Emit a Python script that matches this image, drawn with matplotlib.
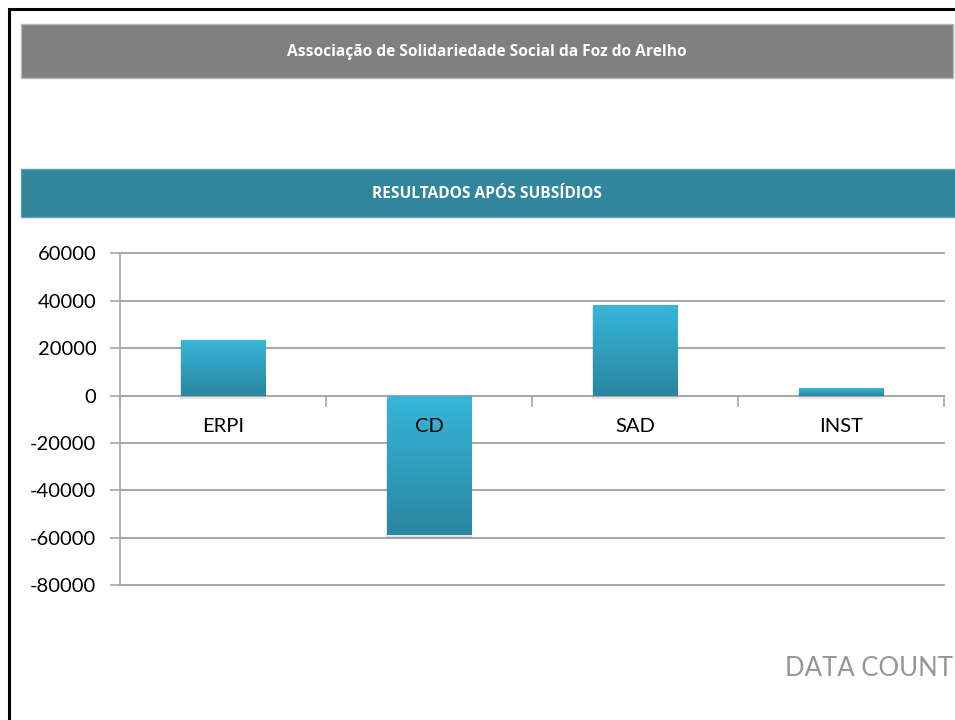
import matplotlib.pyplot as plt
import matplotlib.patches as mpatches
import matplotlib.transforms as mtransforms
import numpy as np

# dados
categorias = ["ERPI", "CD", "SAD", "INST"]
resultados = [23400, -58700, 38200, 3200]
y_ticks = [-80000, -60000, -40000, -20000, 0, 20000, 40000, 60000]

titulo = "Associação de Solidariedade Social da Foz do Arelho"
subtitulo = "RESULTADOS APÓS SUBSÍDIOS"
marca = "DATA COUNT"

W, H = 955, 720
fig = plt.figure(figsize=(W / 100, H / 100), dpi=100)
fig.patch.set_facecolor("white")


def px_rect(x0, y0, x1, y1, **kw):
    # retângulo em pixels (origem no topo)
    r = mpatches.Rectangle((x0 / W, 1 - y1 / H), (x1 - x0) / W, (y1 - y0) / H,
                           transform=fig.transFigure, **kw)
    fig.patches.append(r)
    return r


# moldura preta
px_rect(9, 9, 1000, 800, facecolor="none", edgecolor="black", linewidth=2.2)

# faixas de título
px_rect(21, 24, 953, 78, facecolor="#808080", edgecolor="#b8b8b8", linewidth=1)
px_rect(21, 169, 960, 217, facecolor="#31859c", edgecolor="#5aa3b6", linewidth=1)
fig.text(487 / W, 1 - 52 / H, titulo, ha="center", va="center", color="white",
         fontsize=11.2, fontweight="bold", family="Open Sans")
fig.text(487 / W, 1 - 194 / H, subtitulo, ha="center", va="center", color="white",
         fontsize=11.2, fontweight="bold", family="Open Sans")

# gráfico
ax = fig.add_axes([120 / W, 1 - 585 / H, (944 - 120) / W, (585 - 253.5) / H])
ax.set_xlim(-0.5, len(categorias) - 0.5)
ax.set_ylim(-80000, 60000)
ax.set_axisbelow(True)

grid_c = "#a6a6a6"
ax.set_yticks(y_ticks)
ax.set_yticklabels([str(v) for v in y_ticks], fontsize=14.5, family="Lato")
ax.yaxis.grid(True, color=grid_c, linewidth=1.4)
ax.tick_params(axis="y", length=7, width=1.2, color=grid_c, pad=10)
for gl in ax.get_ygridlines():
    gl.set_clip_on(False)

ax.spines["top"].set_visible(False)
ax.spines["right"].set_visible(False)
ax.spines["left"].set_color(grid_c)
ax.spines["left"].set_linewidth(1.2)
ax.spines["bottom"].set_position(("data", 0))
ax.spines["bottom"].set_color(grid_c)
ax.spines["bottom"].set_linewidth(1.4)

xb = np.arange(len(categorias))
ax.set_xticks(np.append(xb - 0.5, xb[-1] + 0.5))
ax.set_xticklabels([])
ax.tick_params(axis="x", direction="out", length=8, width=1.2, color=grid_c)

# barras com gradiente e sombra
grad = np.linspace(0, 1, 256).reshape(-1, 1)
cmap = plt.matplotlib.colors.LinearSegmentedColormap.from_list(
    "azul", ["#38b6d9", "#2886a0"])
bars = ax.bar(xb, resultados, width=0.41, color="#31a0c0", zorder=3)
for b, v in zip(bars, resultados):
    x0, w = b.get_x(), b.get_width()
    y0, y1 = min(0, v), max(0, v)
    sh = mpatches.Rectangle((x0 - 0.005, y0), w + 0.01, y1 - y0,
                            facecolor="#000000", alpha=0.10, edgecolor="none", zorder=2,
                            transform=ax.transData + mtransforms.ScaledTranslation(
                                0, -3 / 100, fig.dpi_scale_trans))
    ax.add_patch(sh)
    im = ax.imshow(grad, cmap=cmap, aspect="auto", extent=(x0, x0 + w, y0, y1),
                   origin="upper", zorder=3.5)
    im.set_clip_path(b)

ax.set_xlim(-0.5, len(categorias) - 0.5)
ax.set_ylim(-80000, 60000)

# rótulos das categorias
off = mtransforms.ScaledTranslation(0, -31 / 100, fig.dpi_scale_trans)
for i, c in enumerate(categorias):
    ax.text(i, 0, c, ha="center", va="center", fontsize=14.5, family="Lato",
            color="black", zorder=5, transform=ax.transData + off)

# marca
fig.text(785 / W, 1 - 668 / H, marca, ha="left", va="center", color="#959595",
         fontsize=18.5, family="Lato")

fig.savefig("out.png", dpi=100)
